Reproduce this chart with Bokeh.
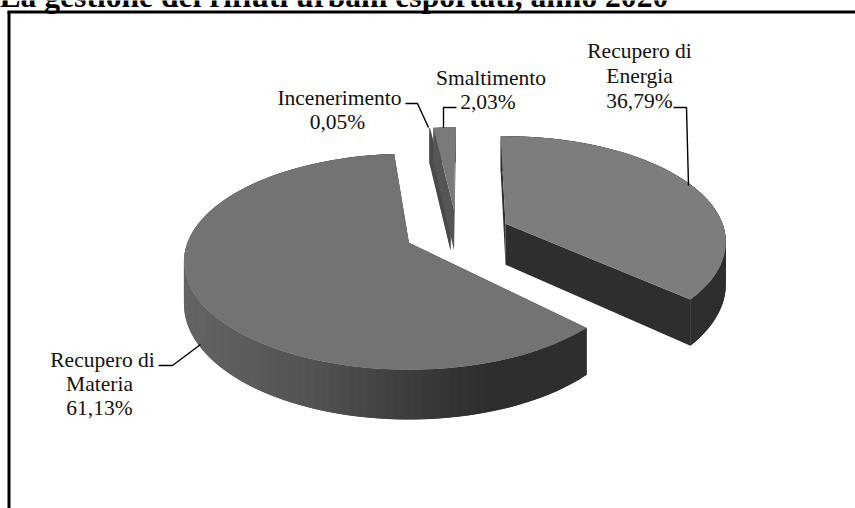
import numpy as np
from bokeh.plotting import figure
from bokeh.embed import file_html
from bokeh.resources import INLINE
from bokeh.core.properties import value

# ---- data
categories = ["Recupero di Energia", "Recupero di Materia", "Incenerimento", "Smaltimento"]
shares = [36.79, 61.13, 0.05, 2.03]
title_text = "La gestione dei rifiuti urbani esportati, anno 2020"
label_lines = [
    ["Recupero di", "Energia", "36,79%"],
    ["Recupero di", "Materia", "61,13%"],
    ["Incenerimento", "0,05%"],
    ["Smaltimento", "2,03%"],
]
top_colors = ["#7d7d7d", "#737373", "#6a6a6a", "#7a7a7a"]
wall_colors = ["#2e2e2e", None, "#4a4a4a", "#555555"]

# ---- layout of the pie
W, H = 855, 508
CX, CY = 456.0, 234.0
A, B, K = 221.5, 104.7, 0.176
DEPTH = 41.0
EXPLODE = 0.24
START = 1.0
# small corrections per slice for the perspective of the exploded pie
slice_turn = [-2.5, 2.0, -0.5, -0.5]
slice_radius = [0.98, 1.0, 0.91, 0.91]
slice_dy = [-1, -3, 0, 0]

p = figure(width=W, height=H, x_range=(0, W), y_range=(H, 0), output_backend="svg",
           toolbar_location=None, min_border=0, outline_line_color=None,
           background_fill_color="white", border_fill_color="white")
p.xaxis.visible = False
p.yaxis.visible = False
p.grid.visible = False


def project(theta, apex, r=1.0, depth=0.0):
    t = np.radians(theta)
    u, v = r * np.sin(t), -r * np.cos(t)
    s = 1.0 / (1.0 - K * v)
    return apex[0] + A * u * s, apex[1] + B * v * s + depth * s


def materia_shade(x):
    g = np.interp(x, [183, 300, 430, 480], [0x64, 0x54, 0x37, 0x2e])
    g = int(round(g))
    return f"#{g:02x}{g:02x}{g:02x}"


angle = START
for i, share in enumerate(shares):
    span = share / 100.0 * 360.0
    a0, a1 = angle, angle + span
    angle = a1
    mid = np.radians((a0 + a1) / 2.0)
    apex = (CX + EXPLODE * A * np.sin(mid), CY - EXPLODE * B * np.cos(mid) + slice_dy[i])
    a0 += slice_turn[i]
    a1 += slice_turn[i]
    r = slice_radius[i]
    thetas = np.linspace(a0, a1, max(int(span / 2) + 2, 3))
    step = thetas[1] - thetas[0]

    # outer wall: strips overlap the next one so that no seams show
    for t0, t1 in zip(thetas[:-1], thetas[1:]):
        t2 = min(t1 + step, a1)
        xa, ya = project(t0, apex, r)
        xb, yb = project(t2, apex, r)
        xc, yc = project(t2, apex, r, depth=DEPTH)
        xd, yd = project(t0, apex, r, depth=DEPTH)
        col = wall_colors[i] or materia_shade((xa + xb) / 2.0)
        p.patch([xa, xb, xc, xd], [ya, yb, yc, yd], fill_color=col, line_color=None)

    # cut faces
    for th in (a0, a1):
        x0, y0 = project(th, apex, r)
        x1, y1 = project(th, apex, r, depth=DEPTH)
        ax0, ay0 = apex
        ax1, ay1 = apex[0], apex[1] + DEPTH
        col = wall_colors[i] or "#2e2e2e"
        p.patch([ax0, x0, x1, ax1], [ay0, y0, y1, ay1], fill_color=col, line_color=None)

    # top surface
    xs, ys = project(thetas, apex, r)
    p.patch([apex[0], *xs], [apex[1], *ys], fill_color=top_colors[i], line_color=None)

# frame lines
p.line([8.5, 8.5], [11, H], line_color="black", line_width=3)
p.line([7, W], [11.5, 11.5], line_color="black", line_width=3)

# leader lines
leaders_x = [[673, 686, 688], [158, 172, 200], [405, 417, 428], [456, 443, 443]]
leaders_y = [[107, 107, 185], [365, 365, 344], [103, 103, 127], [107, 107, 127]]
p.multi_line(leaders_x, leaders_y, line_color="black", line_width=1.4)

# labels
label_x = [[639, 639, 639], [102, 99, 99], [339, 337], [490.5, 487.5]]
label_y = [[50, 75, 100], [359, 383, 407], [97, 121], [77, 101]]
tx, ty, tt = [], [], []
for xs, ys, lines in zip(label_x, label_y, label_lines):
    tx += xs; ty += ys; tt += lines
p.text(tx, ty, text=tt, text_font=value("Liberation Serif"), text_font_size="21.5px",
       text_color="#111111", text_align="center", text_baseline="alphabetic")

p.text([-1], [-4], text=[title_text], text_font=value("Liberation Serif"), text_font_size="31.6px",
       text_font_style="bold", text_color="black", text_align="left", text_baseline="alphabetic")

open("out.html", "w").write(file_html(p, INLINE))
